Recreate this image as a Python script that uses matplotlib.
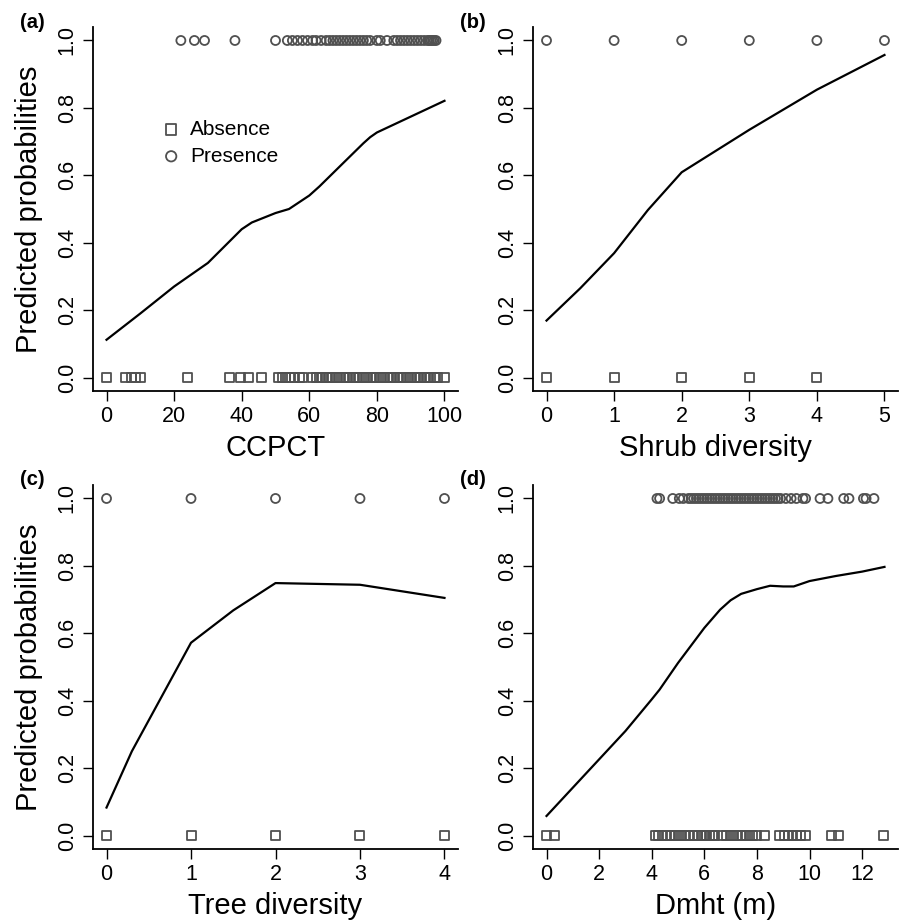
import matplotlib
matplotlib.use('Agg')
import matplotlib.pyplot as plt
import numpy as np

plt.rcParams['font.family'] = ['Liberation Sans', 'DejaVu Sans']

# (a) CCPCT
a_pres = [22, 26, 29, 38, 50, 53.5, 55, 56.5, 58, 59.5, 61, 62, 63.5, 65, 66, 67, 68, 69,
          70, 71, 72, 73, 74, 75, 76, 77, 78, 80, 81, 83, 85, 86, 87, 88, 89, 90, 91, 92,
          93, 94, 95, 95.5, 96, 96.5, 97, 97.5]
a_abs = [0, 5.5, 7.5, 8.5, 10, 24, 36.5, 39.5, 42, 46, 51, 52, 53, 54, 55.5, 57, 58, 61, 62,
         63, 64, 65, 66, 67, 68, 69, 70, 71, 72, 73, 74, 75, 76, 77, 78, 79, 80, 81, 82, 83,
         84, 85, 86, 87, 88, 89, 90, 91, 92, 93, 94, 95, 96, 97, 98, 100]
a_curve_x = [0, 10, 20, 30, 40, 43, 50, 54, 60, 63, 70, 76, 78, 80, 90, 100]
a_curve_y = [0.112, 0.19, 0.27, 0.34, 0.44, 0.46, 0.488, 0.50, 0.54, 0.567, 0.636, 0.695,
             0.713, 0.727, 0.774, 0.821]

# (b) Shrub diversity
b_pres = [0, 1, 2, 3, 4, 5]
b_abs = [0, 1, 2, 3, 4]
b_curve_x = [0, 0.5, 1, 1.5, 2, 3, 4, 5]
b_curve_y = [0.169, 0.265, 0.369, 0.497, 0.609, 0.735, 0.854, 0.957]

# (c) Tree diversity
c_pres = [0, 1, 2, 3, 4]
c_abs = [0, 1, 2, 3, 4]
c_curve_x = [0, 0.3, 1, 1.5, 2, 3, 4]
c_curve_y = [0.083, 0.25, 0.572, 0.668, 0.749, 0.744, 0.705]

# (d) Dmht (m)
d_pres = [4.2, 4.3, 4.8, 5.05, 5.2, 5.4, 5.5, 5.6, 5.7, 5.8, 5.9, 6.0, 6.1, 6.2, 6.3, 6.4,
          6.5, 6.6, 6.7, 6.8, 6.9, 7.0, 7.1, 7.2, 7.3, 7.4, 7.5, 7.6, 7.7, 7.8, 7.9, 8.0,
          8.1, 8.2, 8.3, 8.4, 8.5, 8.6, 8.7, 8.8, 8.9, 9.1, 9.3, 9.5, 9.75, 9.85, 10.4,
          10.7, 11.3, 11.5, 12.05, 12.15, 12.45]
d_abs = [0.0, 0.3, 4.15, 4.25, 4.4, 4.55, 4.7, 4.85, 5.0, 5.15, 5.3, 5.45, 5.6, 5.75, 5.9,
         6.0, 6.1, 6.2, 6.3, 6.4, 6.7, 6.85, 7.0, 7.1, 7.25, 7.4, 7.55, 7.7, 7.85, 8.0, 8.3,
         8.85, 9.05, 9.2, 9.35, 9.5, 9.65, 9.85, 10.85, 11.1, 12.8]
d_curve_x = [0, 1, 2, 3, 4, 4.3, 5, 6, 6.6, 7, 7.4, 8, 8.5, 9, 9.4, 10, 11, 12, 12.85]
d_curve_y = [0.058, 0.142, 0.226, 0.31, 0.404, 0.433, 0.512, 0.616, 0.67, 0.698, 0.717,
             0.731, 0.741, 0.739, 0.739, 0.755, 0.77, 0.783, 0.797]

panels = [
    ('(a)', 'CCPCT', a_pres, a_abs, a_curve_x, a_curve_y, [0, 20, 40, 60, 80, 100]),
    ('(b)', 'Shrub diversity', b_pres, b_abs, b_curve_x, b_curve_y, [0, 1, 2, 3, 4, 5]),
    ('(c)', 'Tree diversity', c_pres, c_abs, c_curve_x, c_curve_y, [0, 1, 2, 3, 4]),
    ('(d)', 'Dmht (m)', d_pres, d_abs, d_curve_x, d_curve_y, [0, 2, 4, 6, 8, 10, 12]),
]

W, H = 902, 924
fig = plt.figure(figsize=(W / 100, H / 100), dpi=100)

# axes boxes in pixels: left, top
boxes = [(93, 27), (533, 27), (93, 485), (533, 485)]
bw, bh = 365, 364
pt_color = '#505050'

for i, (tag, xlabel, pres, absn, cx, cy, xticks) in enumerate(panels):
    left, top = boxes[i]
    ax = fig.add_axes([left / W, 1 - (top + bh) / H, bw / W, bh / H])

    ax.plot(cx, cy, color='black', lw=1.6, zorder=3)
    ax.scatter(absn, np.zeros(len(absn)), marker='s', s=42, facecolors='none',
               edgecolors=pt_color, linewidths=1.3, label='Absence', zorder=2)
    ax.scatter(pres, np.ones(len(pres)), marker='o', s=42, facecolors='none',
               edgecolors=pt_color, linewidths=1.3, label='Presence', zorder=2)

    allx = list(pres) + list(absn) + list(cx)
    lo, hi = min(allx), max(allx)
    pad = 0.04 * (hi - lo)
    ax.set_xlim(lo - pad, hi + pad)
    ax.set_ylim(-0.04, 1.04)

    ax.spines['top'].set_visible(False)
    ax.spines['right'].set_visible(False)
    ax.spines['left'].set_linewidth(1.3)
    ax.spines['bottom'].set_linewidth(1.3)

    ax.set_xticks(xticks)
    ax.set_yticks([0, 0.2, 0.4, 0.6, 0.8, 1.0])
    ax.set_yticklabels(['0.0', '0.2', '0.4', '0.6', '0.8', '1.0'])
    ax.tick_params(axis='both', direction='out', length=7, width=1.0,
                   labelsize=15.5, colors='black', pad=4)
    ax.tick_params(axis='y', labelrotation=90)
    for lab in ax.get_yticklabels():
        lab.set_va('center')

    ax.set_xlabel(xlabel, fontsize=21, labelpad=5)
    if i % 2 == 0:
        ax.set_ylabel('Predicted probabilities', fontsize=21, labelpad=10)

    fig.text((left - 73) / W, 1 - (top - 5) / H, tag, fontsize=14.5, fontweight='bold',
             ha='left', va='center')

    if i == 0:
        ax.legend(loc='upper left', bbox_to_anchor=(0.14, 0.785), frameon=False,
                  fontsize=15, handletextpad=0.3, labelspacing=0.38, borderpad=0.2,
                  handlelength=1.2, markerscale=1.15)

fig.savefig('out.png', dpi=100)
